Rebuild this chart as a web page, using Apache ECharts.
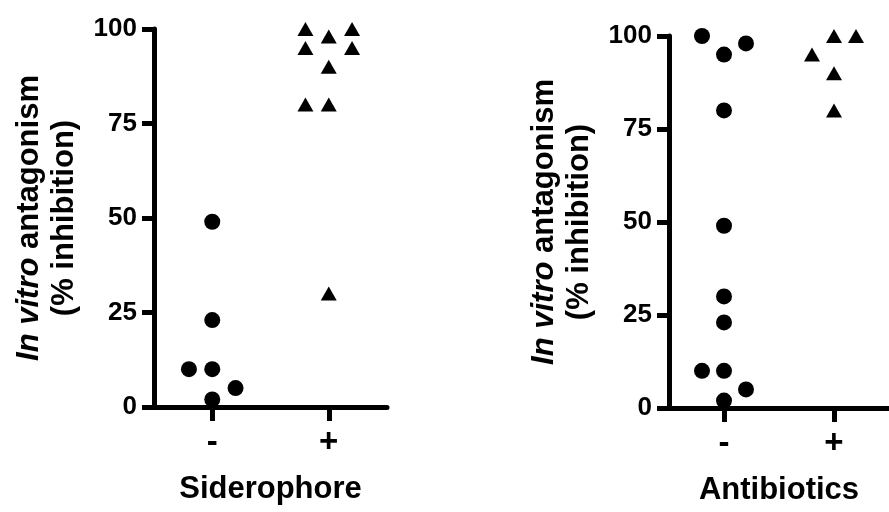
<!DOCTYPE html>
<html>
<head>
<meta charset="utf-8">
<script src="https://cdn.jsdelivr.net/npm/echarts@6/dist/echarts.min.js"></script>
<style>
  html, body { margin: 0; padding: 0; background: #fff; }
  #main { width: 889px; height: 512px; }
</style>
</head>
<body>
<div id="main"></div>
<script>
// group positions on the x axis: "-" = 1, "+" = 2
const groupLabels = { 1: '-', 2: '+' }
const yTicks = [0, 25, 50, 75, 100]

// Siderophore panel
const sidMinusY = [49, 23, 10, 10, 5, 2]
const sidMinusJitter = [0, 0, -0.2, 0, 0.2, 0]
const sidPlusY = [100, 98, 100, 95, 95, 90, 80, 80, 30]
const sidPlusJitter = [-0.2, 0, 0.2, -0.2, 0.2, 0, -0.2, 0, 0]

// Antibiotics panel
const abxMinusY = [100, 95, 98, 80, 49, 30, 23, 10, 10, 5, 2]
const abxMinusJitter = [-0.2, 0, 0.2, 0, 0, 0, 0, -0.2, 0, 0.2, 0]
const abxPlusY = [95, 100, 100, 90, 80]
const abxPlusJitter = [-0.2, 0, 0.2, 0, 0]

const font = "'Liberation Sans', Arial, sans-serif"

function points (group, ys, jitter) {
  return ys.map((v, i) => [group + jitter[i], v])
}

function xAxisFor (idx, title) {
  return {
    type: 'value',
    gridIndex: idx,
    min: 0.5,
    max: 2.5,
    splitLine: { show: false },
    axisLine: { lineStyle: { color: '#000', width: 5 } },
    axisTick: {
      show: true,
      customValues: [1, 2],
      length: 14,
      lineStyle: { color: '#000', width: 5 }
    },
    axisLabel: {
      customValues: [1, 2],
      formatter: v => groupLabels[v] || '',
      margin: 19,
      color: '#000',
      fontFamily: font,
      fontWeight: 'bold',
      fontSize: 33
    },
    name: title,
    nameLocation: 'middle',
    nameGap: 67,
    nameTextStyle: {
      color: '#000',
      fontFamily: font,
      fontWeight: 'bold',
      fontSize: 31
    }
  }
}

function yAxisFor (idx) {
  return {
    type: 'value',
    gridIndex: idx,
    min: 0,
    max: 100,
    interval: 25,
    splitLine: { show: false },
    axisLine: { lineStyle: { color: '#000', width: 5 } },
    axisTick: { length: 12, lineStyle: { color: '#000', width: 5 } },
    axisLabel: {
      margin: 17,
      color: '#000',
      fontFamily: font,
      fontWeight: 'bold',
      fontSize: 26,
      formatter: v => (yTicks.indexOf(v) >= 0 ? String(v) : '')
    },
    name: '{it|In vitro} antagonism\n(% inhibition)',
    nameLocation: 'middle',
    nameGap: 72,
    nameTextStyle: {
      color: '#000',
      fontFamily: font,
      fontWeight: 'bold',
      fontSize: 31,
      lineHeight: 35,
      rich: {
        it: {
          color: '#000',
          fontFamily: font,
          fontWeight: 'bold',
          fontStyle: 'italic',
          fontSize: 31,
          lineHeight: 35
        }
      }
    }
  }
}

function scatter (idx, data, symbol, size) {
  return {
    type: 'scatter',
    xAxisIndex: idx,
    yAxisIndex: idx,
    symbol: symbol,
    symbolSize: size,
    itemStyle: { color: '#000', opacity: 1 },
    data: data
  }
}

const chart = echarts.init(document.getElementById('main'))
chart.setOption({
  animation: false,
  backgroundColor: '#fff',
  grid: [
    { left: 154, top: 29, width: 233, height: 378 },
    { left: 669, top: 36, width: 226, height: 372 }
  ],
  xAxis: [xAxisFor(0, 'Siderophore'), xAxisFor(1, 'Antibiotics')],
  yAxis: [yAxisFor(0), yAxisFor(1)],
  series: [
    scatter(0, points(1, sidMinusY, sidMinusJitter), 'circle', 16),
    scatter(0, points(2, sidPlusY, sidPlusJitter), 'triangle', [16, 14]),
    scatter(1, points(1, abxMinusY, abxMinusJitter), 'circle', 16),
    scatter(1, points(2, abxPlusY, abxPlusJitter), 'triangle', [16, 14])
  ]
})
</script>
</body>
</html>
